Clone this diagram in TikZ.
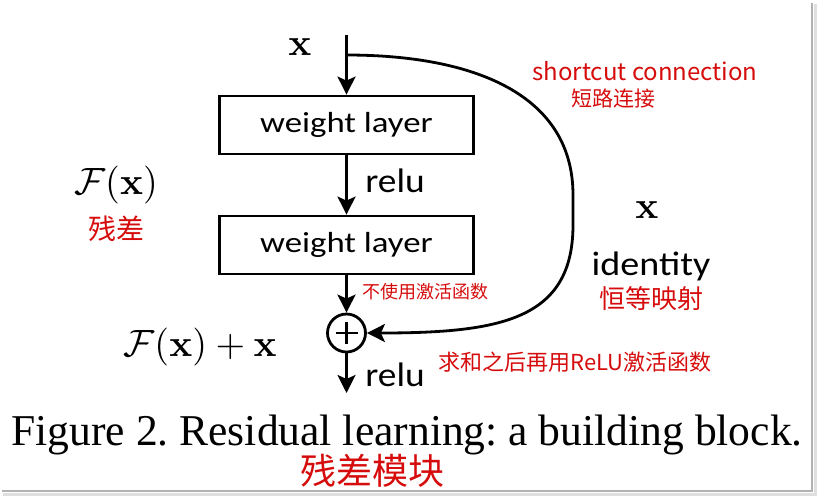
\documentclass[tikz,border=0pt]{standalone}
\usepackage[no-math]{fontspec}
\usepackage{graphicx}
\usetikzlibrary{arrows.meta}
\setmainfont{Liberation Serif}
\newfontfamily\calib{Carlito}
\newfontfamily\cjk{Noto Sans CJK SC}
\definecolor{handred}{RGB}{214,12,12}
\newcommand{\hsc}[2]{\scalebox{#1}[1]{#2}}
\newcommand{\fsz}[1]{\fontsize{#1}{#1}\selectfont}
\newcommand{\bigmath}[1]{\scalebox{3.8}{$#1$}}
\frenchspacing
\begin{document}
\begin{tikzpicture}[x=1pt,y=-1pt,
  line width=2.8pt,
  arr/.style={-{Stealth[length=18pt,width=18pt,inset=4pt]}},
  wbox/.style={draw, rectangle, minimum width=254pt, minimum height=58pt, inner sep=0pt, font=\calib\fsz{29}},
  lbl/.style={inner sep=0pt, font=\calib\fsz{34}},
  mth/.style={inner sep=0pt},
  hand/.style={inner sep=0pt, text=handred, font=\cjk\fsz{#1}},
  frameline/.style={line width=2pt, draw=gray!60}
]
\useasboundingbox (0,0) rectangle (818,496);
% frame shadow
\draw[line width=3pt, draw=gray!25] (815,4) -- (815,494) -- (3,494);
\draw[frameline] (812,3) -- (812,491) -- (2,491);

% main chain
\coordinate (top) at (346.5,35);
\coordinate (branch) at (346.5,55);
\coordinate (out) at (346.5,393);
\node[wbox] (w1) at (346.5,125) {\hsc{1.2}{weight layer}};
\node[wbox] (w2) at (346.5,245) {\hsc{1.2}{weight layer}};
\node[circle, draw, minimum size=38pt, inner sep=0pt] (sum) at (346.5,333) {};
\draw ([xshift=-11pt]sum.center) -- ([xshift=11pt]sum.center);
\draw ([yshift=-11pt]sum.center) -- ([yshift=11pt]sum.center);

\draw (top) -- (branch);
\draw[arr] (branch) -- (w1.north);
\draw[arr] (w1) -- (w2);
\draw[arr] (w2) -- (sum);
\draw[arr] (sum) -- (out);
\draw[arr] (branch) .. controls (475,55) and (573,95) .. (573,195) -- (573,225)
  .. controls (573,320) and (500,333) .. (sum.east);

% labels
\node[mth] (xin) at (300,47) {\bigmath{\mathbf{x}}};
\node[mth] (fx) at (116,185) {\bigmath{\mathcal{F}(\mathbf{x})}};
\node[mth] (fxx) at (200,347) {\bigmath{\mathcal{F}(\mathbf{x})+\mathbf{x}}};
\node[mth] (xid) at (647,210) {\bigmath{\mathbf{x}}};
\node[lbl, anchor=base west] (relu1) at (364,192) {\hsc{1.1}{relu}};
\node[lbl, anchor=base west] (relu2) at (364,386) {\hsc{1.1}{relu}};
\node[lbl, anchor=base] (ident) at (651,275) {\hsc{1.12}{identity}};
\node[inner sep=0pt, anchor=base, font=\fsz{44}] (cap) at (407,445)
  {\hsc{0.99}{Figure 2. Residual learning: a building block.}};

% red annotations
\node[hand=24] (sc) at (645,71) {shortcut connection};
\node[hand=21] (scz) at (613,99) {短路连接};
\node[hand=28] (res) at (116,229) {残差};
\node[hand=18] (noact) at (425,292) {不使用激活函数};
\node[hand=26] (idz) at (651,299) {恒等映射};
\node[hand=22] (sumrelu) at (575,362) {求和之后再用ReLU激活函数};
\node[hand=36] (blk) at (372,471) {残差模块};
\end{tikzpicture}
\end{document}
